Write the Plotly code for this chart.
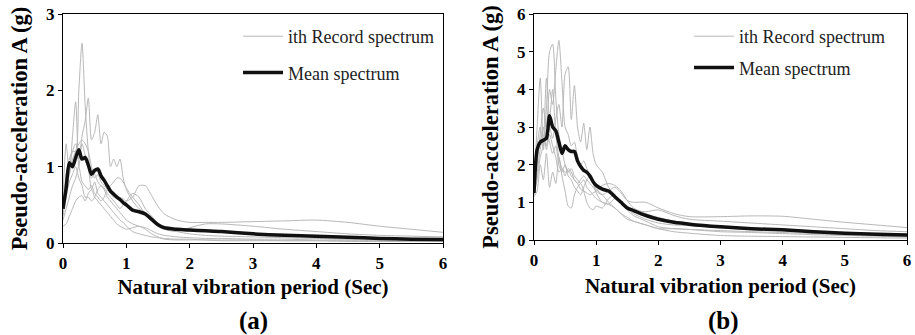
import plotly.graph_objects as go

# ---------------- data ----------------
T = [0, 0.05, 0.1, 0.15, 0.2, 0.25, 0.3, 0.35, 0.4, 0.45, 0.5, 0.55, 0.6, 0.65, 0.7,
     0.75, 0.8, 0.85, 0.9, 0.95, 1.0, 1.1, 1.2, 1.3, 1.4, 1.5, 1.6, 1.8, 2.0, 2.25,
     2.5, 3.0, 3.5, 4.0, 4.5, 5.0, 5.5, 6.0]

# panel (a) records
rec_a1 = [0.55, 0.9, 1.1, 1.2, 1.2, 2.0, 2.62, 1.8, 1.2, 0.85, 0.9, 0.8, 0.75, 0.7, 0.6,
          0.55, 0.5, 0.45, 0.4, 0.35, 0.3, 0.25, 0.22, 0.2, 0.16, 0.12, 0.1, 0.08, 0.07, 0.06,
          0.06, 0.05, 0.05, 0.04, 0.04, 0.03, 0.03, 0.03]
rec_a2 = [0.45, 0.8, 1.0, 1.2, 1.3, 1.1, 1.4, 1.6, 1.9, 1.35, 1.45, 1.68, 1.3, 1.45, 1.4,
          1.0, 1.1, 1.0, 1.1, 0.85, 0.7, 0.55, 0.45, 0.4, 0.3, 0.25, 0.2, 0.15, 0.12, 0.1,
          0.09, 0.08, 0.07, 0.06, 0.05, 0.05, 0.04, 0.04]
rec_a3 = [0.6, 1.3, 0.9, 1.4, 1.85, 1.0, 1.3, 1.15, 1.0, 0.7, 0.8, 0.65, 0.6, 0.55, 0.5,
          0.45, 0.4, 0.35, 0.3, 0.27, 0.22, 0.15, 0.12, 0.1, 0.08, 0.07, 0.06, 0.05, 0.05, 0.04,
          0.04, 0.04, 0.03, 0.03, 0.03, 0.02, 0.02, 0.02]
rec_a4 = [0.3, 0.45, 0.6, 0.75, 0.85, 1.0, 0.8, 0.75, 0.7, 0.75, 0.65, 0.6, 0.55, 0.6, 0.7,
          0.75, 0.8, 0.85, 0.85, 0.8, 0.72, 0.6, 0.5, 0.38, 0.3, 0.25, 0.2, 0.17, 0.16, 0.15,
          0.14, 0.12, 0.1, 0.08, 0.07, 0.06, 0.05, 0.05]
rec_a5 = [0.4, 0.7, 0.9, 1.1, 1.2, 1.3, 1.35, 1.3, 1.2, 1.0, 0.85, 0.9, 0.8, 0.75, 0.7,
          0.65, 0.6, 0.62, 0.6, 0.58, 0.55, 0.6, 0.75, 0.75, 0.62, 0.48, 0.38, 0.3, 0.27, 0.27,
          0.27, 0.28, 0.29, 0.3, 0.27, 0.22, 0.18, 0.14]
rec_a6 = [0.22, 0.25, 0.35, 0.45, 0.55, 0.6, 0.62, 0.55, 0.65, 0.7, 0.6, 0.55, 0.5, 0.45, 0.4,
          0.35, 0.3, 0.25, 0.22, 0.2, 0.18, 0.2, 0.22, 0.18, 0.12, 0.08, 0.05, 0.04, 0.04, 0.04,
          0.03, 0.03, 0.03, 0.03, 0.02, 0.02, 0.02, 0.02]
rec_a7 = [0.35, 0.6, 0.8, 0.9, 1.0, 0.85, 0.75, 0.6, 0.6, 0.55, 0.6, 0.7, 0.75, 0.72, 0.65,
          0.6, 0.55, 0.5, 0.45, 0.5, 0.55, 0.65, 0.6, 0.45, 0.35, 0.25, 0.18, 0.15, 0.2, 0.25,
          0.25, 0.22, 0.18, 0.15, 0.12, 0.1, 0.09, 0.08]
mean_a = [0.45, 0.72, 1.05, 1.0, 1.12, 1.22, 1.1, 1.12, 1.02, 0.9, 0.95, 0.97, 0.88, 0.82, 0.75,
          0.68, 0.64, 0.6, 0.57, 0.53, 0.5, 0.43, 0.41, 0.38, 0.31, 0.24, 0.2, 0.18, 0.17, 0.16,
          0.15, 0.12, 0.1, 0.09, 0.075, 0.06, 0.05, 0.045]

# panel (b) records
rec_b1 = [1.2, 2.0, 2.8, 3.5, 3.0, 4.0, 3.6, 4.5, 5.3, 4.2, 3.0, 2.8, 2.5, 2.6, 2.2,
          2.0, 2.1, 1.9, 1.7, 1.5, 1.35, 1.2, 1.0, 0.85, 0.7, 0.55, 0.5, 0.4, 0.3, 0.3,
          0.28, 0.25, 0.22, 0.2, 0.17, 0.14, 0.12, 0.1]
rec_b2 = [1.3, 2.5, 3.0, 2.4, 3.5, 5.0, 5.2, 3.8, 2.8, 2.4, 2.0, 1.8, 1.9, 1.7, 1.6,
          1.5, 1.6, 1.4, 1.3, 1.2, 1.1, 1.0, 0.95, 0.85, 0.7, 0.6, 0.5, 0.4, 0.3, 0.22,
          0.18, 0.12, 0.1, 0.09, 0.08, 0.07, 0.06, 0.05]
rec_b3 = [1.5, 3.0, 4.3, 2.5, 4.3, 3.2, 4.0, 2.8, 2.2, 1.9, 1.8, 1.85, 1.7, 1.6, 1.5,
          1.35, 1.3, 1.25, 1.2, 1.25, 1.3, 1.45, 1.5, 1.45, 1.3, 1.05, 0.85, 0.7, 0.6, 0.5,
          0.45, 0.35, 0.3, 0.25, 0.2, 0.17, 0.15, 0.12]
rec_b4 = [1.2, 1.8, 2.4, 2.8, 2.5, 3.0, 2.7, 3.2, 3.6, 3.0, 4.4, 4.6, 3.2, 4.1, 3.0,
          2.6, 3.1, 2.4, 3.0, 2.3, 2.0, 1.8, 1.4, 1.2, 1.0, 0.85, 0.7, 0.55, 0.45, 0.4,
          0.38, 0.32, 0.28, 0.25, 0.22, 0.2, 0.18, 0.15]
rec_b5 = [1.15, 1.3, 2.0, 1.6, 2.3, 1.4, 1.8, 1.5, 2.2, 1.7, 1.3, 0.9, 0.85, 1.2, 1.4,
          1.5, 1.3, 1.0, 0.85, 0.8, 0.9, 0.85, 1.1, 1.2, 1.0, 0.8, 0.65, 0.5, 0.35, 0.3,
          0.28, 0.22, 0.2, 0.17, 0.14, 0.12, 0.1, 0.08]
rec_b6 = [1.3, 2.2, 2.6, 3.0, 2.4, 2.8, 2.5, 2.2, 1.8, 1.9, 1.7, 1.9, 1.8, 1.6, 1.5,
          1.6, 1.7, 1.6, 1.5, 1.4, 1.3, 1.2, 1.3, 1.4, 1.25, 1.05, 1.0, 1.0, 0.85, 0.7,
          0.62, 0.62, 0.64, 0.63, 0.55, 0.47, 0.4, 0.33]
rec_b7 = [1.2, 1.6, 2.2, 2.5, 2.9, 2.6, 2.3, 2.5, 2.0, 1.8, 2.0, 1.7, 1.6, 1.4, 1.3,
          1.2, 1.4, 1.6, 1.7, 1.5, 1.25, 1.0, 0.95, 1.1, 1.0, 0.9, 0.8, 0.75, 0.8, 0.65,
          0.55, 0.5, 0.45, 0.4, 0.35, 0.3, 0.25, 0.22]
mean_b = [1.25, 2.4, 2.6, 2.65, 2.7, 3.3, 3.0, 2.9, 2.6, 2.3, 2.5, 2.4, 2.35, 2.35, 2.1,
          1.95, 1.85, 1.8, 1.7, 1.55, 1.45, 1.35, 1.3, 1.15, 1.0, 0.85, 0.78, 0.65, 0.55, 0.47,
          0.42, 0.35, 0.3, 0.27, 0.22, 0.18, 0.15, 0.13]

records_a = [rec_a1, rec_a2, rec_a3, rec_a4, rec_a5, rec_a6, rec_a7]
records_b = [rec_b1, rec_b2, rec_b3, rec_b4, rec_b5, rec_b6, rec_b7]

x_ticks = [0, 1, 2, 3, 4, 5, 6]
y_ticks_a = [0, 1, 2, 3]
y_ticks_b = [0, 1, 2, 3, 4, 5, 6]

rec_name = "ith Record spectrum"
mean_name = "Mean spectrum"
x_title = "Natural vibration period (Sec)"
y_title = "Pseudo-acceleration A (g)"

# ---------------- figure ----------------
W, H = 915, 335
SERIF = "Liberation Serif"
GREY = "#b8b8b8"

fig = go.Figure()

def add_panel(records, mean, xa, ya, legend):
    for i, r in enumerate(records):
        fig.add_trace(go.Scatter(
            x=T, y=r, mode="lines", name=rec_name,
            line=dict(color=GREY, width=1, shape="spline", smoothing=0.7),
            xaxis=xa, yaxis=ya, legend=legend, legendgroup="rec",
            showlegend=(i == 0), hoverinfo="skip"))
    fig.add_trace(go.Scatter(
        x=T, y=mean, mode="lines", name=mean_name,
        line=dict(color="#111111", width=3.5, shape="spline", smoothing=0.7),
        xaxis=xa, yaxis=ya, legend=legend, legendgroup="mean", showlegend=True))

add_panel(records_a, mean_a, "x", "y", "legend")
add_panel(records_b, mean_b, "x2", "y2", "legend2")

def px_x(p):
    return p / W

def px_y(p):
    return 1 - p / H

tick_font = dict(family=SERIF, size=17, color="black", weight="bold")
xtitle_font = dict(family=SERIF, size=21, color="black", weight="bold")
ytitle_font = dict(family=SERIF, size=22.5, color="black", weight="bold")

axis_common = dict(
    showline=True, linecolor="black", linewidth=1.3, mirror=True,
    ticks="outside", ticklen=4, tickwidth=1.2, tickcolor="black",
    showgrid=False, zeroline=False, tickfont=tick_font, fixedrange=True,
    automargin=False,
)

fig.update_layout(
    width=W, height=H,
    autosize=False,
    margin=dict(l=0, r=0, t=0, b=0, pad=0, autoexpand=False),
    paper_bgcolor="white", plot_bgcolor="white",
    xaxis=dict(domain=[px_x(63), px_x(443)], range=[0, 6], tickvals=x_ticks,
               anchor="y", title=dict(text=x_title, font=xtitle_font, standoff=7),
               **axis_common),
    yaxis=dict(domain=[px_y(243), px_y(14)], range=[0, 3], tickvals=y_ticks_a,
               anchor="x", title=dict(text=y_title, font=ytitle_font, standoff=12),
               **axis_common),
    xaxis2=dict(domain=[px_x(534), px_x(907)], range=[0, 6], tickvals=x_ticks,
                anchor="y2", title=dict(text=x_title, font=xtitle_font, standoff=9),
                **axis_common),
    yaxis2=dict(domain=[px_y(240), px_y(14)], range=[0, 6], tickvals=y_ticks_b,
                anchor="x2", title=dict(text=y_title, font=ytitle_font, standoff=12),
                **axis_common),
    legend=dict(x=px_x(238), y=px_y(18), xanchor="left", yanchor="top",
                bgcolor="rgba(0,0,0,0)", font=dict(family=SERIF, size=18, color="#222"),
                traceorder="grouped", tracegroupgap=10, itemwidth=40),
    legend2=dict(x=px_x(689), y=px_y(18), xanchor="left", yanchor="top",
                 bgcolor="rgba(0,0,0,0)", font=dict(family=SERIF, size=18, color="#222"),
                 traceorder="grouped", tracegroupgap=5, itemwidth=40),
    showlegend=True,
    annotations=[
        dict(text="(a)", x=px_x(253), y=px_y(321), xref="paper", yref="paper",
             xanchor="center", yanchor="middle", showarrow=False,
             font=dict(family=SERIF, size=25, color="black", weight="bold")),
        dict(text="(b)", x=px_x(723), y=px_y(321), xref="paper", yref="paper",
             xanchor="center", yanchor="middle", showarrow=False,
             font=dict(family=SERIF, size=25, color="black", weight="bold")),
    ],
)

fig.write_html("out.html")
